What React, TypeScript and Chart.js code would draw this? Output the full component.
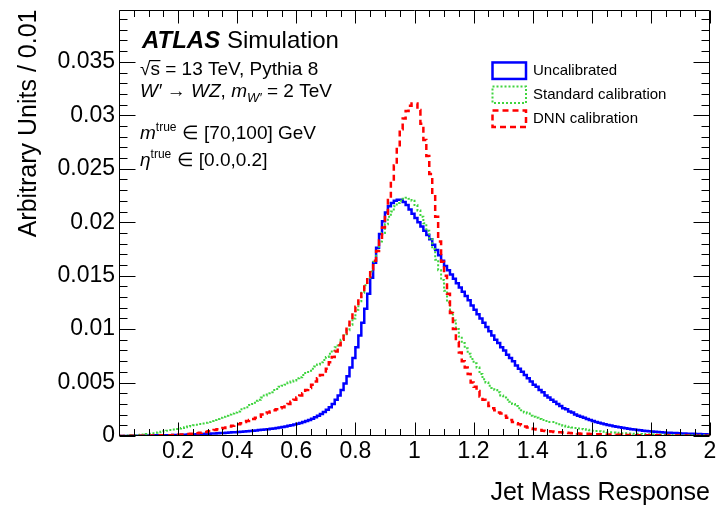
import React, { useEffect, useRef } from 'react';
import { Chart, registerables } from 'chart.js';

Chart.register(...registerables);

// ---------------- data ----------------
const BIN_WIDTH = 0.01;
const X_MIN = 0;
const X_MAX = 2;
const Y_MIN = 0;
const Y_MAX = 0.0399;
const X_MAJOR = 0.2;
const X_MINOR = 0.05;
const Y_MAJOR = 0.005;
const Y_MINOR = 0.001;

const seriesNames = ['Uncalibrated', 'Standard calibration', 'DNN calibration'];

// bin contents, bins of width 0.01 from 0 to 2
const uncalibrated = [
  0, 0, 0.00001, 0.00001, 0.00002, 0.00002, 0.00003, 0.00003, 0.00004, 0.00004,
  0.00005, 0.00005, 0.00006, 0.00006, 0.00007, 0.00007, 0.00008, 0.00008, 0.00009, 0.0001,
  0.0001, 0.00011, 0.00012, 0.00013, 0.00014, 0.00015, 0.00016, 0.00018, 0.00019, 0.0002,
  0.00021, 0.00023, 0.00024, 0.00026, 0.00027, 0.00029, 0.0003, 0.00032, 0.00034, 0.00036,
  0.00038, 0.0004, 0.00042, 0.00044, 0.00047, 0.00049, 0.00052, 0.00055, 0.00058, 0.00061,
  0.00064, 0.00068, 0.00071, 0.00075, 0.00079, 0.00084, 0.00089, 0.00095, 0.001, 0.00107,
  0.00114, 0.00122, 0.0013, 0.0014, 0.0015, 0.00162, 0.00175, 0.0019, 0.00206, 0.00224,
  0.00245, 0.0027, 0.003, 0.0034, 0.0038, 0.0043, 0.0049, 0.0056, 0.0064, 0.0073,
  0.0083, 0.0094, 0.0106, 0.0119, 0.0133, 0.0148, 0.0162, 0.0176, 0.0189, 0.0201,
  0.0209, 0.0215, 0.0218, 0.022, 0.0221, 0.0221, 0.0219, 0.0216, 0.0212, 0.0208,
  0.0204, 0.02, 0.0196, 0.0192, 0.0188, 0.0184, 0.0179, 0.0174, 0.0169, 0.0164,
  0.0159, 0.0155, 0.0151, 0.0147, 0.0143, 0.0139, 0.0135, 0.0131, 0.0127, 0.0122,
  0.0118, 0.0114, 0.011, 0.0106, 0.0102, 0.0098, 0.0094, 0.009, 0.0087, 0.0083,
  0.008, 0.0076, 0.0073, 0.007, 0.0066, 0.0063, 0.006, 0.0057, 0.0054, 0.0051,
  0.0048, 0.0046, 0.0043, 0.0041, 0.0038, 0.0036, 0.0034, 0.0032, 0.003, 0.0028,
  0.0026, 0.0025, 0.0023, 0.0022, 0.002, 0.0019, 0.0018, 0.0017, 0.0016, 0.0015,
  0.0014, 0.0013, 0.00125, 0.00118, 0.0011, 0.00104, 0.00098, 0.00092, 0.00087, 0.00082,
  0.00077, 0.00072, 0.00068, 0.00064, 0.0006, 0.00056, 0.00053, 0.0005, 0.00047, 0.00044,
  0.00042, 0.0004, 0.00037, 0.00035, 0.00033, 0.00031, 0.0003, 0.00028, 0.00027, 0.00025,
  0.00024, 0.00023, 0.00022, 0.00021, 0.0002, 0.00019, 0.00018, 0.00017, 0.00016, 0.00015,
];

const standardCalibration = [
  0.00002, 0.00003, 0.00004, 0.00005, 0.00007, 0.00008, 0.0001, 0.00012, 0.00015, 0.00018,
  0.00022, 0.00026, 0.0003, 0.00035, 0.0004, 0.00045, 0.0005, 0.00055, 0.0006, 0.00066,
  0.0007, 0.00076, 0.00082, 0.00088, 0.00094, 0.001, 0.00106, 0.00112, 0.00118, 0.00124,
  0.0013, 0.0014, 0.0015, 0.0016, 0.0017, 0.0018, 0.0019, 0.002, 0.0021, 0.0022,
  0.0023, 0.0025, 0.0026, 0.0027, 0.0029, 0.003, 0.0033, 0.0034, 0.0036, 0.0038,
  0.004, 0.0041, 0.0043, 0.0044, 0.0046, 0.0047, 0.0048, 0.005, 0.0051, 0.0052,
  0.0054, 0.0055, 0.0057, 0.0059, 0.0061, 0.0063, 0.0065, 0.0067, 0.0069, 0.0071,
  0.0074, 0.0077, 0.008, 0.0083, 0.0086, 0.009, 0.0094, 0.0099, 0.0104, 0.011,
  0.0118, 0.0126, 0.0134, 0.0141, 0.0148, 0.0154, 0.0163, 0.0173, 0.0182, 0.019,
  0.0198, 0.0205, 0.021, 0.0215, 0.0218, 0.022, 0.0222, 0.0223, 0.0222, 0.022,
  0.0216, 0.0211, 0.0205, 0.0199, 0.0192, 0.0184, 0.0175, 0.0165, 0.0155, 0.0146,
  0.0136, 0.0125, 0.0116, 0.0108, 0.01, 0.0093, 0.0087, 0.0082, 0.0077, 0.0072,
  0.0068, 0.0064, 0.0058, 0.0053, 0.005, 0.0047, 0.0045, 0.0043, 0.0041, 0.0038,
  0.0036, 0.0034, 0.0032, 0.003, 0.0028, 0.0026, 0.0024, 0.0022, 0.0021, 0.0019,
  0.0018, 0.0017, 0.0016, 0.0015, 0.0014, 0.0013, 0.0013, 0.0012, 0.0011, 0.001,
  0.00095, 0.0009, 0.00085, 0.0008, 0.00075, 0.0007, 0.00066, 0.00062, 0.00058, 0.00054,
  0.0005, 0.00047, 0.00044, 0.00041, 0.00039, 0.00036, 0.00034, 0.00032, 0.0003, 0.00028,
  0.00026, 0.00025, 0.00023, 0.00022, 0.00021, 0.0002, 0.00019, 0.00018, 0.00017, 0.00016,
  0.00015, 0.00014, 0.00013, 0.00013, 0.00012, 0.00011, 0.00011, 0.0001, 0.0001, 0.00009,
  0.00009, 0.00008, 0.00008, 0.00007, 0.00007, 0.00007, 0.00006, 0.00006, 0.00006, 0.00005,
];

const dnnCalibration = [
  0.00001, 0.00001, 0.00001, 0.00002, 0.00002, 0.00002, 0.00003, 0.00003, 0.00003, 0.00004,
  0.00004, 0.00005, 0.00005, 0.00006, 0.00006, 0.00007, 0.00008, 0.00008, 0.00009, 0.0001,
  0.00012, 0.00014, 0.00016, 0.00018, 0.0002, 0.00023, 0.00026, 0.0003, 0.00034, 0.00038,
  0.00045, 0.0005, 0.00056, 0.00062, 0.00068, 0.00074, 0.0008, 0.00088, 0.00095, 0.00103,
  0.0011, 0.0012, 0.0013, 0.0014, 0.0015, 0.0016, 0.0017, 0.0018, 0.002, 0.0021,
  0.0022, 0.0023, 0.0024, 0.0025, 0.0026, 0.0027, 0.0029, 0.003, 0.0032, 0.0034,
  0.0036, 0.0038, 0.004, 0.0043, 0.0045, 0.0048, 0.0051, 0.0054, 0.0057, 0.0059,
  0.0063, 0.0069, 0.0074, 0.0079, 0.0085, 0.009, 0.0096, 0.0102, 0.0109, 0.0115,
  0.0121, 0.0128, 0.0135, 0.0142, 0.0149, 0.0156, 0.0164, 0.0173, 0.0183, 0.0195,
  0.0208, 0.0222, 0.0238, 0.0253, 0.027, 0.0287, 0.0297, 0.0304, 0.0309, 0.0311,
  0.0311, 0.0305, 0.0292, 0.0277, 0.0262, 0.0245, 0.0226, 0.0205, 0.0182, 0.0163,
  0.015, 0.0133, 0.0115, 0.01, 0.0088, 0.0078, 0.007, 0.0064, 0.0058, 0.005,
  0.0046, 0.0042, 0.0037, 0.0034, 0.0031, 0.0028, 0.0026, 0.0024, 0.0022, 0.0021,
  0.0019, 0.0017, 0.0015, 0.0013, 0.0012, 0.0011, 0.001, 0.0009, 0.0008, 0.0007,
  0.00065, 0.0006, 0.00055, 0.0005, 0.00047, 0.00044, 0.00041, 0.00038, 0.00036, 0.00034,
  0.00032, 0.0003, 0.00028, 0.00026, 0.00025, 0.00023, 0.00022, 0.00021, 0.0002, 0.00019,
  0.00018, 0.00017, 0.00016, 0.00015, 0.00014, 0.00013, 0.00013, 0.00012, 0.00011, 0.00011,
  0.0001, 0.0001, 0.00009, 0.00009, 0.00008, 0.00008, 0.00008, 0.00007, 0.00007, 0.00007,
  0.00006, 0.00006, 0.00006, 0.00005, 0.00005, 0.00005, 0.00005, 0.00004, 0.00004, 0.00004,
  0.00004, 0.00004, 0.00003, 0.00003, 0.00003, 0.00003, 0.00003, 0.00003, 0.00002, 0.00002,
];

// ---------------- styling ----------------
const FONT = "'Liberation Sans', Arial, Helvetica, sans-serif";
const BLUE = '#0000ff';
const GREEN = '#3fd43f';
const RED = '#ff0000';

type SeriesStyle = { color: string; width: number; dash: number[] };
const seriesStyles: SeriesStyle[] = [
  { color: BLUE, width: 2.5, dash: [] },
  { color: GREEN, width: 2, dash: [2, 2] },
  { color: RED, width: 2.5, dash: [6, 4] },
];

const isMultiple = (v: number, step: number) => {
  const r = v / step;
  return Math.abs(r - Math.round(r)) < 1e-6;
};
const fmt = (v: number) => String(parseFloat(v.toFixed(4)));

const toPoints = (vals: number[]) => {
  const pts = vals.map((v, i) => ({ x: X_MIN + i * BIN_WIDTH, y: v }));
  pts.push({ x: X_MIN + vals.length * BIN_WIDTH, y: vals[vals.length - 1] });
  return pts;
};

type Run = { t: string; style?: string; size: number; dy?: number };
function drawRuns(ctx: CanvasRenderingContext2D, runs: Run[], x: number, y: number) {
  let cx = x;
  for (const r of runs) {
    ctx.font = `${r.style || ''} ${r.size}px ${FONT}`;
    ctx.fillText(r.t, cx, y + (r.dy || 0));
    cx += ctx.measureText(r.t).width;
  }
  return cx;
}

const frameTicksPlugin = {
  id: 'frameTicks',
  afterDatasetsDraw(chart: any) {
    const { ctx, chartArea, scales } = chart;
    const L = Math.round(chartArea.left) + 0.5;
    const R = Math.round(chartArea.right) - 0.5;
    const T = Math.round(chartArea.top) + 0.5;
    const B = Math.round(chartArea.bottom) - 0.5;
    ctx.save();
    ctx.strokeStyle = '#000';
    ctx.lineWidth = 1;
    ctx.setLineDash([]);
    ctx.beginPath();
    ctx.rect(L, T, R - L, B - T);
    ctx.stroke();
    ctx.beginPath();
    for (const t of scales.y.ticks) {
      if (!isMultiple(t.value, Y_MINOR)) continue;
      const py = Math.round(scales.y.getPixelForValue(t.value)) + 0.5;
      const len = isMultiple(t.value, Y_MAJOR) ? 16 : 8;
      ctx.moveTo(L, py);
      ctx.lineTo(L + len, py);
      ctx.moveTo(R, py);
      ctx.lineTo(R - len, py);
    }
    for (const t of scales.x.ticks) {
      if (!isMultiple(t.value, X_MINOR)) continue;
      const px = Math.round(scales.x.getPixelForValue(t.value)) + 0.5;
      const len = isMultiple(t.value, X_MAJOR) ? 13 : 6.5;
      ctx.moveTo(px, B);
      ctx.lineTo(px, B - len);
      ctx.moveTo(px, T);
      ctx.lineTo(px, T + len);
    }
    ctx.stroke();
    ctx.restore();
  },
};

const annotationPlugin = {
  id: 'atlasText',
  afterDraw(chart: any) {
    const ctx: CanvasRenderingContext2D = chart.ctx;
    ctx.save();
    ctx.fillStyle = '#000';
    ctx.textAlign = 'left';
    ctx.textBaseline = 'alphabetic';

    drawRuns(ctx, [
      { t: 'ATLAS', style: 'italic bold', size: 24 },
      { t: ' Simulation', size: 24 },
    ], 142, 48);

    // sqrt(s) line
    ctx.font = `19px ${FONT}`;
    const rootW = ctx.measureText('√').width;
    ctx.fillText('√', 140, 75);
    const sW = ctx.measureText('s').width;
    ctx.fillText('s', 140 + rootW, 75);
    ctx.fillRect(140 + rootW - 1, 60, sW + 1.5, 1.2);
    ctx.fillText(' = 13 TeV, Pythia 8', 140 + rootW + sW, 75);

    drawRuns(ctx, [
      { t: 'W′', style: 'italic', size: 19 },
      { t: ' → ', size: 19 },
      { t: 'WZ', style: 'italic', size: 19 },
      { t: ', ', size: 19 },
      { t: 'm', style: 'italic', size: 19 },
      { t: 'W′', style: 'italic', size: 13, dy: 5 },
      { t: ' = 2 TeV', size: 19 },
    ], 140, 97);

    drawRuns(ctx, [
      { t: 'm', style: 'italic', size: 19 },
      { t: 'true', size: 12, dy: -8 },
      { t: ' ∈ [70,100] GeV', size: 19 },
    ], 140, 139);

    drawRuns(ctx, [
      { t: 'η', style: 'italic', size: 19 },
      { t: 'true', size: 12, dy: -8 },
      { t: ' ∈ [0.0,0.2]', size: 19 },
    ], 140, 166);

    // legend
    const boxX = 492.5;
    const boxW = 33.5;
    const boxH = 16.5;
    const centers = [70.7, 94.7, 118.7];
    seriesNames.forEach((name, i) => {
      const st = seriesStyles[i];
      ctx.save();
      ctx.strokeStyle = st.color;
      ctx.lineWidth = st.width;
      ctx.setLineDash(st.dash);
      ctx.strokeRect(boxX, centers[i] - boxH / 2, boxW, boxH);
      ctx.restore();
      ctx.font = `15px ${FONT}`;
      ctx.textBaseline = 'middle';
      ctx.fillStyle = '#000';
      ctx.fillText(name, 533, centers[i] + 0.5);
    });
    ctx.restore();
  },
};

export default function App() {
  const canvasRef = useRef<HTMLCanvasElement | null>(null);

  useEffect(() => {
    document.body.style.margin = '0';
    const canvas = canvasRef.current;
    if (!canvas) return;
    const allSeries = [uncalibrated, standardCalibration, dnnCalibration];
    const chart = new Chart(canvas, {
      type: 'line',
      data: {
        datasets: allSeries.map((vals, i) => ({
          label: seriesNames[i],
          data: toPoints(vals),
          borderColor: seriesStyles[i].color,
          borderWidth: seriesStyles[i].width,
          borderDash: seriesStyles[i].dash,
          borderCapStyle: 'butt',
          borderJoinStyle: 'miter',
          stepped: true,
          pointRadius: 0,
          fill: false,
          order: 3 - i,
        })),
      },
      options: {
        animation: false,
        responsive: false,
        devicePixelRatio: 1,
        events: [],
        layout: { padding: { left: 0, right: 10, top: 9.5, bottom: 0 } },
        plugins: {
          legend: { display: false },
          tooltip: { enabled: false },
        },
        scales: {
          x: {
            type: 'linear',
            min: X_MIN,
            max: X_MAX,
            afterFit: (s: any) => {
              s.height = 73;
              s.paddingLeft = 0;
              s.paddingRight = 0;
            },
            grid: { display: false, drawTicks: false },
            border: { display: false },
            ticks: {
              stepSize: X_MINOR,
              autoSkip: false,
              maxRotation: 0,
              minRotation: 0,
              includeBounds: false,
              padding: 2,
              color: '#000',
              font: { family: FONT, size: 23 },
              callback: (v: any) => (isMultiple(Number(v), X_MAJOR) && Number(v) > 0 ? fmt(Number(v)) : ''),
            },
            title: {
              display: true,
              text: 'Jet Mass Response',
              align: 'end',
              color: '#000',
              font: { family: FONT, size: 25 },
              padding: { top: 0, bottom: 1 },
            },
          },
          y: {
            type: 'linear',
            min: Y_MIN,
            max: Y_MAX,
            afterFit: (s: any) => {
              s.width = 119;
              s.paddingTop = 0;
              s.paddingBottom = 0;
            },
            grid: { display: false, drawTicks: false },
            border: { display: false },
            ticks: {
              stepSize: Y_MINOR,
              autoSkip: false,
              includeBounds: false,
              padding: 4,
              color: '#000',
              font: { family: FONT, size: 23 },
              callback: (v: any) => (isMultiple(Number(v), Y_MAJOR) ? fmt(Number(v)) : ''),
            },
            title: {
              display: true,
              text: 'Arbitrary Units / 0.01',
              align: 'end',
              color: '#000',
              font: { family: FONT, size: 25 },
              padding: { top: 14, bottom: 0 },
            },
          },
        },
      },
      plugins: [frameTicksPlugin, annotationPlugin],
    } as any);
    return () => chart.destroy();
  }, []);

  return (
    <div style={{ width: 720, height: 509, background: '#fff' }}>
      <canvas ref={canvasRef} width={720} height={509} />
    </div>
  );
}
